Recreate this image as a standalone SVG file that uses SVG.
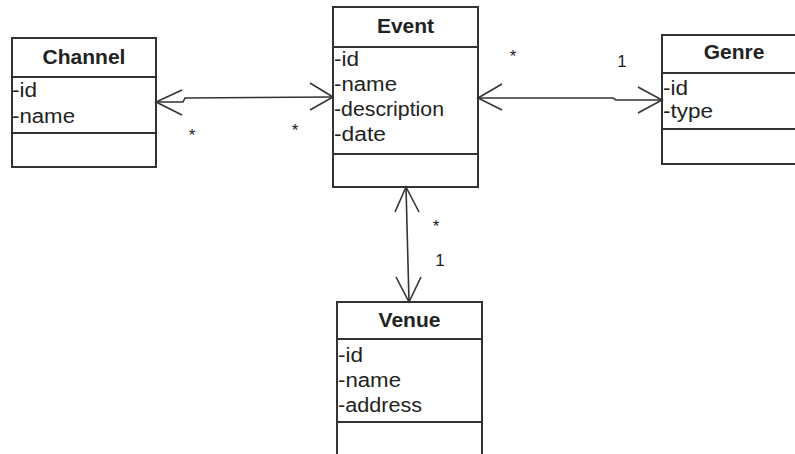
<svg xmlns="http://www.w3.org/2000/svg" width="795" height="454" viewBox="0 0 795 454">
<style>
.box{fill:#fff;stroke:#333;stroke-width:2}
.sep{stroke:#333;stroke-width:2}
.hdr{font-family:"Liberation Sans",Arial,sans-serif;font-weight:bold;font-size:21px;fill:#222;text-anchor:middle}
.att{font-family:"Liberation Sans",Arial,sans-serif;font-size:20px;fill:#222}
.lbl{font-family:"Liberation Sans",Arial,sans-serif;font-size:17px;fill:#222;text-anchor:middle}
.con{fill:none;stroke:#333;stroke-width:1.6}
</style>
<rect width="795" height="454" fill="#fff"/>
<g id="Channel">
<rect class="box" x="12" y="38" width="144" height="129"/>
<line class="sep" x1="12" y1="77" x2="156" y2="77"/>
<line class="sep" x1="12" y1="133" x2="156" y2="133"/>
<text class="hdr" x="84" y="64">Channel</text>
<text class="att" x="12" y="97" textLength="25" lengthAdjust="spacingAndGlyphs">-id</text>
<text class="att" x="12" y="123" textLength="63" lengthAdjust="spacingAndGlyphs">-name</text>
</g>
<g id="Event">
<rect class="box" x="333" y="7" width="145" height="180"/>
<line class="sep" x1="333" y1="47" x2="478" y2="47"/>
<line class="sep" x1="333" y1="154" x2="478" y2="154"/>
<text class="hdr" x="405.5" y="33">Event</text>
<text class="att" x="334" y="66" textLength="25" lengthAdjust="spacingAndGlyphs">-id</text>
<text class="att" x="334" y="91" textLength="63" lengthAdjust="spacingAndGlyphs">-name</text>
<text class="att" x="334" y="116" textLength="110" lengthAdjust="spacingAndGlyphs">-description</text>
<text class="att" x="334" y="141" textLength="52" lengthAdjust="spacingAndGlyphs">-date</text>
</g>
<g id="Genre">
<rect class="box" x="662" y="35" width="145" height="129"/>
<line class="sep" x1="662" y1="73" x2="807" y2="73"/>
<line class="sep" x1="662" y1="129" x2="807" y2="129"/>
<text class="hdr" x="734" y="59">Genre</text>
<text class="att" x="663" y="95" textLength="25" lengthAdjust="spacingAndGlyphs">-id</text>
<text class="att" x="663" y="118" textLength="50" lengthAdjust="spacingAndGlyphs">-type</text>
</g>
<g id="Venue">
<rect class="box" x="337" y="302" width="145" height="170"/>
<line class="sep" x1="337" y1="339" x2="482" y2="339"/>
<line class="sep" x1="337" y1="422" x2="482" y2="422"/>
<text class="hdr" x="409.5" y="327">Venue</text>
<text class="att" x="338" y="362" textLength="25" lengthAdjust="spacingAndGlyphs">-id</text>
<text class="att" x="338" y="387" textLength="63" lengthAdjust="spacingAndGlyphs">-name</text>
<text class="att" x="338" y="412" textLength="84" lengthAdjust="spacingAndGlyphs">-address</text>
</g>
<g id="connectors">
<path class="con" d="M156,102 L183,102 L185,98 L333,97"/>
<polyline class="con" points="182,90 156,102 182,115"/>
<polyline class="con" points="310,83 333,97 310,110"/>
<path class="con" d="M478,98 L613,98 L616,100 L662,100"/>
<polyline class="con" points="502,84 478,98 502,110"/>
<polyline class="con" points="638,87 662,100 638,113"/>
<path class="con" d="M406,187 L409,302"/>
<polyline class="con" points="395,212 406,187 419,212"/>
<polyline class="con" points="396,277 409,302 421,277"/>
<text class="lbl" x="192" y="141">*</text>
<text class="lbl" x="295" y="136">*</text>
<text class="lbl" x="513" y="62">*</text>
<text class="lbl" x="622" y="67">1</text>
<text class="lbl" x="436" y="232">*</text>
<text class="lbl" x="440" y="266">1</text>
</g>
</svg>
